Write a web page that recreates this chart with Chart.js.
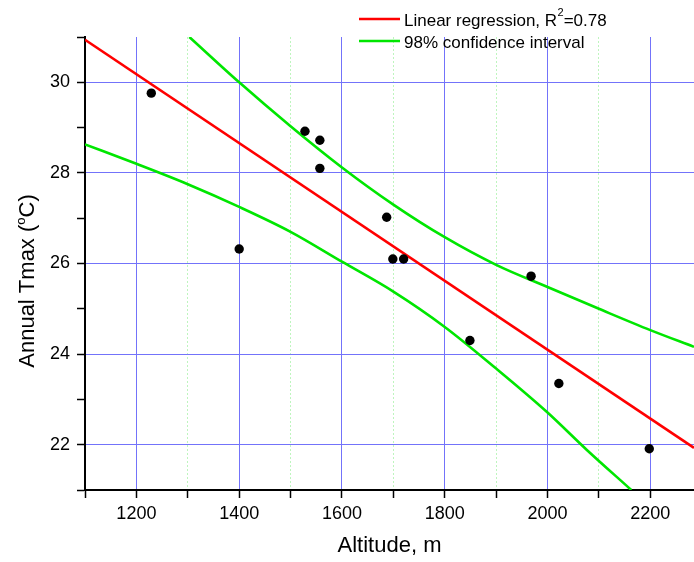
<!DOCTYPE html>
<html>
<head>
<meta charset="utf-8">
<script src="https://cdn.jsdelivr.net/npm/chart.js@4"></script>
<style>
  body { margin: 0; background: #fff; }
  canvas { display: block; }
</style>
</head>
<body>
<canvas id="myChart" width="694" height="562"></canvas>
<script>
// measured points
const altitude = [1229, 1400, 1528, 1557, 1557, 1687, 1699, 1720, 1849, 1968, 2022, 2198];
const tmax = [29.76, 26.32, 28.92, 28.72, 28.10, 27.02, 26.10, 26.10, 24.30, 25.72, 23.35, 21.91];

// regression line ends
const fitX = [1100, 2285];
const fitY = [30.94, 21.93];

// 98% confidence band
const upperX = [1303, 1400, 1500, 1600, 1700, 1800, 1900, 2000, 2100, 2200, 2285];
const upperY = [31.0, 30.0, 29.03, 28.12, 27.30, 26.58, 25.97, 25.48, 25.0, 24.53, 24.16];
const lowerX = [1100, 1200, 1300, 1400, 1500, 1600, 1700, 1800, 1900, 2000, 2076, 2163];
const lowerY = [28.63, 28.20, 27.75, 27.25, 26.70, 26.04, 25.38, 24.60, 23.68, 22.71, 21.89, 21.0];

const xLabels = ["1200", "1400", "1600", "1800", "2000", "2200"];
const yLabels = ["22", "24", "26", "28", "30"];

const FONT = "'Liberation Sans', Arial, sans-serif";
const gridBlue = "rgb(115,115,250)";
const gridGreen = "rgb(190,245,190)";

const pts = (xs, ys) => xs.map((x, i) => ({ x: x, y: ys[i] }));

// legend + y title drawn by hand (superscripts)
const extrasPlugin = {
    id: "extras",
    afterDraw(chart) {
        const ctx = chart.ctx;
        ctx.save();
        ctx.lineWidth = 2.5;
        ctx.strokeStyle = "red";
        ctx.beginPath(); ctx.moveTo(359, 19); ctx.lineTo(400, 19); ctx.stroke();
        ctx.strokeStyle = "rgb(0,230,0)";
        ctx.beginPath(); ctx.moveTo(359, 41); ctx.lineTo(400, 41); ctx.stroke();

        ctx.fillStyle = "black";
        ctx.textBaseline = "alphabetic";
        ctx.font = "17px " + FONT;
        let t = "Linear regression, R";
        ctx.fillText(t, 404, 26);
        let x = 404 + ctx.measureText(t).width;
        ctx.font = "11px " + FONT;
        ctx.fillText("2", x + 0.5, 16);
        x += ctx.measureText("2").width + 0.5;
        ctx.font = "17px " + FONT;
        ctx.fillText("=0.78", x, 26);
        ctx.fillText("98% confidence interval", 404, 48);

        // y axis title
        const big = "22px " + FONT, small = "13px " + FONT;
        const parts = [["Annual Tmax (", big, 0], ["o", small, -9], ["C)", big, 0]];
        let w = 0;
        parts.forEach(p => { ctx.font = p[1]; w += ctx.measureText(p[0]).width; });
        ctx.translate(34, 281 + w / 2);
        ctx.rotate(-Math.PI / 2);
        let px = 0;
        parts.forEach(p => {
            ctx.font = p[1];
            ctx.fillText(p[0], px, p[2]);
            px += ctx.measureText(p[0]).width;
        });
        ctx.restore();
    }
};

const data = {
    datasets: [
        {
            label: "data",
            data: pts(altitude, tmax),
            backgroundColor: "black",
            borderWidth: 0,
            pointRadius: 4.7,
            showLine: false
        },
        {
            label: "Linear regression",
            data: pts(fitX, fitY),
            borderColor: "red",
            borderWidth: 2.6,
            pointRadius: 0,
            showLine: true
        },
        {
            label: "98% confidence interval",
            data: pts(upperX, upperY),
            borderColor: "rgb(0,230,0)",
            borderWidth: 2.6,
            pointRadius: 0,
            showLine: true,
            cubicInterpolationMode: "monotone"
        },
        {
            label: "lower",
            data: pts(lowerX, lowerY),
            borderColor: "rgb(0,230,0)",
            borderWidth: 2.6,
            pointRadius: 0,
            showLine: true,
            cubicInterpolationMode: "monotone"
        }
    ]
};

const config = {
    type: "scatter",
    data: data,
    plugins: [extrasPlugin],
    options: {
        responsive: false,
        animation: false,
        devicePixelRatio: 1,
        events: [],
        layout: { autoPadding: false, padding: { top: 37, right: 0, left: 0, bottom: 0 } },
        plugins: {
            legend: { display: false },
            tooltip: { enabled: false }
        },
        scales: {
            x: {
                type: "linear",
                min: 1100,
                max: 2285,
                afterFit: (s) => { s.height = 72; },
                border: { color: "black", width: 2, dash: (c) => (c.tick && c.tick.value % 200 !== 0) ? [2, 2] : [] },
                grid: {
                    color: (c) => (c.tick && c.tick.value % 200 === 0) ? gridBlue : gridGreen,
                    lineWidth: 1,
                    tickColor: "black",
                    tickLength: 8,
                    tickWidth: 1.5
                },
                ticks: {
                    stepSize: 100,
                    includeBounds: false,
                    autoSkip: false,
                    maxRotation: 0,
                    padding: 5,
                    color: "black",
                    font: { size: 18, family: FONT },
                    callback: (v) => xLabels.includes(String(v)) ? String(v) : ""
                },
                title: {
                    display: true,
                    text: "Altitude, m",
                    color: "black",
                    font: { size: 22, family: FONT },
                    padding: { top: 0, bottom: 3 }
                }
            },
            y: {
                type: "linear",
                min: 21,
                max: 31,
                afterFit: (s) => { s.width = 85; },
                border: { color: "black", width: 2 },
                grid: {
                    color: (c) => (c.tick && c.tick.value % 2 === 0) ? gridBlue : "rgba(0,0,0,0)",
                    lineWidth: 1,
                    tickColor: "black",
                    tickLength: 8,
                    tickWidth: 1.5
                },
                ticks: {
                    stepSize: 1,
                    autoSkip: false,
                    padding: 7,
                    color: "black",
                    font: { size: 18, family: FONT },
                    callback: (v) => yLabels.includes(String(v)) ? String(v) : ""
                },
                title: { display: false }
            }
        }
    }
};

const myChart = new Chart(document.getElementById("myChart"), config);
</script>
</body>
</html>
